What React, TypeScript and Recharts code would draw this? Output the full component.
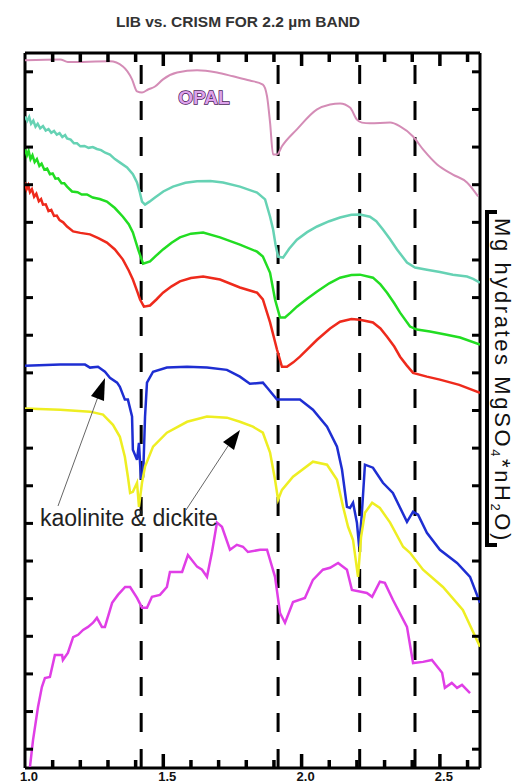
import React from 'react';
import { LineChart, Line, XAxis, YAxis, ReferenceLine, ReferenceDot } from 'recharts';

// wavelength (µm) vs. offset reflectance, curves stacked top to bottom
const OPAL: [number, number][] = [
  [1.0, 18.81], [1.127, 18.83], [1.155, 18.76], [1.307, 18.78], [1.354, 18.64], [1.387, 18.3],
  [1.405, 17.98], [1.423, 17.95], [1.445, 18.03], [1.47, 18.11], [1.499, 18.3], [1.55, 18.48],
  [1.622, 18.54], [1.694, 18.48], [1.752, 18.38], [1.813, 18.27], [1.86, 18.16], [1.875, 17.85],
  [1.886, 17.15], [1.897, 16.3], [1.911, 16.3], [1.929, 16.52], [1.983, 16.97], [2.056, 17.5],
  [2.103, 17.63], [2.139, 17.66], [2.175, 17.55], [2.2, 17.23], [2.218, 17.15], [2.247, 17.13],
  [2.32, 17.15], [2.356, 17.05], [2.403, 16.78], [2.439, 16.44], [2.49, 16.04], [2.547, 15.77],
  [2.598, 15.56], [2.638, 15.19],
];

const TEAL: [number, number][] = [
  [1.0, 17.31], [1.008, 17.2], [1.015, 17.3], [1.022, 17.12], [1.03, 17.2], [1.038, 17.04],
  [1.046, 17.12], [1.055, 17.0], [1.065, 17.06], [1.075, 16.94], [1.085, 16.98], [1.095, 16.88],
  [1.105, 16.93], [1.115, 16.83], [1.125, 16.87], [1.135, 16.77], [1.145, 16.82], [1.152, 16.73],
  [1.165, 16.7], [1.177, 16.6], [1.188, 16.6], [1.2, 16.52], [1.215, 16.53], [1.23, 16.48],
  [1.245, 16.5], [1.26, 16.45], [1.275, 16.42], [1.29, 16.35], [1.307, 16.3], [1.325, 16.18],
  [1.345, 16.08], [1.369, 15.96], [1.39, 15.78], [1.405, 15.56], [1.415, 15.3], [1.423, 15.05],
  [1.434, 14.97], [1.45, 15.05], [1.47, 15.16], [1.5, 15.32], [1.535, 15.45], [1.58, 15.55],
  [1.622, 15.59], [1.67, 15.6], [1.716, 15.56], [1.777, 15.45], [1.839, 15.29], [1.868, 15.11],
  [1.886, 14.65], [1.897, 14.31], [1.906, 13.9], [1.915, 13.59], [1.933, 13.56], [1.955, 13.8],
  [1.983, 14.04], [2.02, 14.24], [2.056, 14.39], [2.1, 14.53], [2.139, 14.63], [2.18, 14.7],
  [2.211, 14.71], [2.247, 14.65], [2.27, 14.53], [2.294, 14.31], [2.32, 14.05], [2.345, 13.78],
  [2.381, 13.43], [2.41, 13.3], [2.453, 13.24], [2.5, 13.18], [2.547, 13.11], [2.598, 13.06],
  [2.62, 13.0], [2.645, 12.9],
];

const GREEN: [number, number][] = [
  [1.0, 16.44], [1.007, 16.28], [1.013, 16.4], [1.02, 16.18], [1.027, 16.28], [1.035, 16.1],
  [1.043, 16.18], [1.052, 16.0], [1.06, 16.06], [1.07, 15.9], [1.08, 15.93], [1.09, 15.78],
  [1.1, 15.8], [1.11, 15.66], [1.12, 15.67], [1.132, 15.54], [1.142, 15.54], [1.152, 15.45],
  [1.17, 15.32], [1.19, 15.3], [1.205, 15.24], [1.224, 15.24], [1.245, 15.16], [1.27, 15.12],
  [1.296, 15.05], [1.325, 14.88], [1.354, 14.65], [1.375, 14.45], [1.39, 14.23], [1.409, 13.78],
  [1.427, 13.4], [1.452, 13.46], [1.475, 13.62], [1.499, 13.78], [1.53, 13.96], [1.56, 14.1],
  [1.6, 14.2], [1.644, 14.23], [1.705, 14.1], [1.777, 13.91], [1.839, 13.72], [1.86, 13.59],
  [1.886, 13.16], [1.904, 12.45], [1.922, 11.97], [1.94, 11.97], [1.96, 12.1], [1.983, 12.26],
  [2.02, 12.47], [2.056, 12.66], [2.1, 12.88], [2.139, 13.03], [2.18, 13.1], [2.211, 13.11],
  [2.258, 13.03], [2.285, 12.85], [2.309, 12.63], [2.335, 12.35], [2.356, 12.1], [2.392, 11.73],
  [2.417, 11.65], [2.464, 11.6], [2.52, 11.52], [2.573, 11.44], [2.645, 11.25],
];

const RED: [number, number][] = [
  [1.0, 15.56], [1.006, 15.38], [1.012, 15.48], [1.018, 15.3], [1.025, 15.38], [1.033, 15.18],
  [1.041, 15.26], [1.05, 15.06], [1.058, 15.12], [1.065, 14.97], [1.075, 14.98], [1.085, 14.8],
  [1.095, 14.83], [1.105, 14.67], [1.115, 14.68], [1.125, 14.56], [1.138, 14.5], [1.152, 14.39],
  [1.174, 14.26], [1.2, 14.22], [1.235, 14.18], [1.265, 14.08], [1.296, 13.96], [1.325, 13.78],
  [1.354, 13.51], [1.375, 13.22], [1.39, 12.98], [1.405, 12.68], [1.416, 12.45], [1.43, 12.26],
  [1.452, 12.29], [1.475, 12.45], [1.499, 12.63], [1.53, 12.8], [1.56, 12.93], [1.6, 13.02],
  [1.644, 13.06], [1.705, 12.98], [1.777, 12.77], [1.839, 12.63], [1.86, 12.45], [1.886, 11.84],
  [1.911, 11.12], [1.929, 10.66], [1.947, 10.66], [1.97, 10.78], [1.994, 10.93], [2.056, 11.38],
  [2.103, 11.68], [2.139, 11.86], [2.18, 11.93], [2.211, 11.91], [2.258, 11.84], [2.285, 11.68],
  [2.309, 11.46], [2.335, 11.2], [2.356, 10.93], [2.38, 10.7], [2.403, 10.5], [2.453, 10.4],
  [2.5, 10.32], [2.57, 10.18], [2.645, 9.97],
];

const BLUE: [number, number][] = [
  [1.0, 10.69], [1.127, 10.72], [1.217, 10.72], [1.235, 10.64], [1.264, 10.66], [1.289, 10.53],
  [1.307, 10.37], [1.333, 10.24], [1.343, 10.13], [1.361, 9.79], [1.372, 9.79], [1.387, 9.34],
  [1.39, 8.46], [1.405, 8.19], [1.412, 8.64], [1.419, 7.71], [1.427, 7.74], [1.434, 9.34],
  [1.441, 10.24], [1.463, 10.53], [1.513, 10.64], [1.586, 10.66], [1.658, 10.64], [1.73, 10.58],
  [1.777, 10.4], [1.813, 10.21], [1.86, 10.24], [1.875, 10.11], [1.911, 9.79], [1.994, 9.79],
  [2.041, 9.52], [2.092, 9.07], [2.128, 8.54], [2.146, 7.93], [2.164, 6.94], [2.175, 6.91],
  [2.186, 7.05], [2.2, 6.52], [2.208, 5.88], [2.218, 6.78], [2.229, 8.06], [2.258, 7.98],
  [2.294, 7.58], [2.33, 7.31], [2.381, 6.54], [2.403, 6.81], [2.421, 6.73], [2.453, 6.25],
  [2.5, 5.8], [2.562, 5.45], [2.609, 5.08], [2.645, 4.39],
];

const YELLOW: [number, number][] = [
  [1.0, 9.55], [1.127, 9.52], [1.235, 9.47], [1.282, 9.39], [1.318, 9.12], [1.343, 8.8],
  [1.361, 8.27], [1.372, 7.74], [1.38, 7.31], [1.39, 7.34], [1.405, 7.58], [1.412, 6.94],
  [1.423, 7.58], [1.434, 8.01], [1.463, 8.54], [1.513, 8.91], [1.586, 9.2], [1.658, 9.34],
  [1.73, 9.31], [1.777, 9.2], [1.824, 9.07], [1.86, 8.91], [1.886, 8.38], [1.904, 7.66],
  [1.915, 7.13], [1.929, 7.39], [1.969, 7.74], [2.041, 8.14], [2.092, 8.06], [2.128, 7.66],
  [2.15, 6.94], [2.168, 6.41], [2.186, 6.06], [2.204, 5.08], [2.215, 6.14], [2.229, 6.78],
  [2.255, 7.05], [2.283, 6.91], [2.32, 6.52], [2.367, 5.88], [2.392, 5.72], [2.439, 5.27],
  [2.511, 4.81], [2.583, 4.2], [2.645, 3.22],
];

const MAGENTA: [number, number][] = [
  [1.018, 0.03], [1.029, 0.74], [1.047, 1.62], [1.061, 2.15], [1.072, 2.39], [1.09, 2.42],
  [1.108, 3.0], [1.134, 3.0], [1.137, 2.87], [1.155, 3.06], [1.174, 3.48], [1.192, 3.54],
  [1.21, 3.67], [1.228, 3.75], [1.246, 3.86], [1.26, 3.99], [1.278, 3.75], [1.289, 3.75],
  [1.315, 4.39], [1.336, 4.6], [1.362, 4.81], [1.38, 4.81], [1.405, 4.52], [1.423, 4.26],
  [1.441, 4.26], [1.459, 4.55], [1.488, 4.6], [1.513, 4.81], [1.524, 5.21], [1.568, 5.21],
  [1.589, 5.66], [1.622, 5.35], [1.64, 5.27], [1.658, 5.08], [1.676, 5.74], [1.694, 6.52],
  [1.712, 6.41], [1.741, 5.8], [1.766, 5.93], [1.788, 5.88], [1.806, 5.74], [1.85, 5.8],
  [1.875, 5.8], [1.904, 5.08], [1.922, 4.12], [1.94, 3.86], [1.969, 4.41], [2.012, 4.52],
  [2.041, 5.0], [2.077, 5.27], [2.103, 5.32], [2.132, 5.45], [2.164, 5.27], [2.182, 4.73],
  [2.236, 4.65], [2.255, 4.55], [2.283, 4.95], [2.301, 4.92], [2.33, 4.47], [2.381, 3.75],
  [2.403, 2.79], [2.439, 2.82], [2.471, 2.87], [2.508, 2.53], [2.518, 2.13], [2.543, 2.26],
  [2.562, 2.13], [2.58, 2.21], [2.609, 1.99],
];

const BANDS = [1.42, 1.915, 2.21, 2.41];
const X_MIN = 1.0;
const X_MAX = 2.645;
const Y_MIN = 0;
const Y_MAX = 19;
const X_TICKS = [1.1, 1.2, 1.3, 1.4, 1.5, 1.6, 1.7, 1.8, 1.9, 2.0, 2.1, 2.2, 2.3, 2.4, 2.5, 2.6];
const X_LABELS = [1.0, 1.5, 2.0, 2.5];
const Y_TICKS = [0.5, 1.5, 2.5, 3.5, 4.5, 5.5, 6.5, 7.5, 8.5, 9.5, 10.5, 11.5, 12.5, 13.5, 14.5, 15.5, 16.5, 17.5, 18.5];

const toRows = (pts: [number, number][]) => pts.map(([w, r]) => ({ w, r }));

const SERIES = [
  { name: 'opal', pts: OPAL, color: '#d48cb6', width: 2, type: 'monotone' },
  { name: 'teal', pts: TEAL, color: '#66d2b4', width: 2.5, type: 'linear' },
  { name: 'green', pts: GREEN, color: '#22dd22', width: 2.5, type: 'linear' },
  { name: 'red', pts: RED, color: '#ee2a1c', width: 2.5, type: 'linear' },
  { name: 'blue', pts: BLUE, color: '#1e2ed2', width: 2.5, type: 'linear' },
  { name: 'yellow', pts: YELLOW, color: '#eeee22', width: 2.5, type: 'linear' },
  { name: 'magenta', pts: MAGENTA, color: '#e03ee6', width: 2.5, type: 'linear' },
];

const FONT = '"Liberation Sans", Arial, sans-serif';
const isMajor = (v: number) => X_LABELS.some((m) => Math.abs(m - v) < 1e-6);

const BottomLabel = (props: any) => {
  const { x, y, payload } = props;
  return (
    <text x={x + 4} y={y + 13} textAnchor="middle" fontSize={13} fontWeight="bold" fontFamily={FONT} fill="#111">
      {Number(payload.value).toFixed(1)}
    </text>
  );
};

// tick drawn from an anchor point on the frame, as a filled bar (dx, dy = direction)
const tickShape = (dx: number, dy: number, len: number, w = 3) => (p: any) => {
  const { cx, cy } = p;
  const x = dx === 0 ? cx - w / 2 : dx > 0 ? cx : cx - len;
  const y = dy === 0 ? cy - w / 2 : dy > 0 ? cy : cy - len;
  return <rect x={x} y={y} width={dx === 0 ? w : len} height={dy === 0 ? w : len} fill="#000" />;
};

const frame = { stroke: '#000', strokeWidth: 3, ifOverflow: 'visible' as const };

export default function App() {
  return (
    <div style={{ position: 'absolute', left: 0, top: 0, width: 515, height: 783, background: '#fff' }}>
      <LineChart width={515} height={783} margin={{ top: 53, right: 35, bottom: 14, left: 25 }}>
        <XAxis
          type="number"
          dataKey="w"
          domain={[X_MIN, X_MAX]}
          ticks={X_LABELS}
          interval={0}
          height={1}
          tickSize={0}
          tickMargin={0}
          tickLine={false}
          axisLine={false}
          tick={<BottomLabel />}
          allowDataOverflow
        />
        <YAxis type="number" domain={[Y_MIN, Y_MAX]} hide allowDataOverflow />
        {/* plot frame */}
        <ReferenceLine y={Y_MIN} {...frame} />
        <ReferenceLine y={Y_MAX} {...frame} />
        <ReferenceLine x={X_MIN} {...frame} />
        <ReferenceLine x={X_MAX} {...frame} />
        {/* inward tick marks on all four sides */}
        {X_TICKS.map((t) => (
          <ReferenceDot
            key={'b' + t}
            x={t}
            y={Y_MIN}
            ifOverflow="visible"
            shape={tickShape(0, -1, isMajor(t) ? 14 : 8, 3.5)}
          />
        ))}
        {X_TICKS.map((t) => (
          <ReferenceDot
            key={'t' + t}
            x={t}
            y={Y_MAX}
            ifOverflow="visible"
            shape={tickShape(0, 1, isMajor(t) ? 13 : 9, 3.5)}
          />
        ))}
        {Y_TICKS.map((t) => (
          <ReferenceDot key={'l' + t} x={X_MIN} y={t} ifOverflow="visible" shape={tickShape(1, 0, 8)} />
        ))}
        {Y_TICKS.map((t) => (
          <ReferenceDot key={'r' + t} x={X_MAX} y={t} ifOverflow="visible" shape={tickShape(-1, 0, 8)} />
        ))}
        {BANDS.map((b) => (
          <ReferenceLine key={b} x={b} stroke="#000" strokeWidth={3} strokeDasharray="19 17" />
        ))}
        {SERIES.map((s) => (
          <Line
            key={s.name}
            data={toRows(s.pts)}
            dataKey="r"
            type={s.type as any}
            stroke={s.color}
            strokeWidth={s.width}
            dot={false}
            isAnimationActive={false}
          />
        ))}
      </LineChart>
      <svg width={515} height={783} style={{ position: 'absolute', left: 0, top: 0, pointerEvents: 'none' }}>
        <text x={238} y={27} textAnchor="middle" fontSize={15.5} fontWeight="bold" fontFamily={FONT} fill="#333">
          LIB vs. CRISM FOR 2.2 µm BAND
        </text>
        <text
          x={204}
          y={104}
          textAnchor="middle"
          fontSize={19}
          fontWeight="bold"
          fontFamily={FONT}
          fill="#dda2ec"
          stroke="#4a1a58"
          strokeWidth={1.4}
          paintOrder="stroke"
        >
          OPAL
        </text>
        <text x={40} y={526} fontSize={23} fontFamily={FONT} fill="#222">
          kaolinite &amp; dickite
        </text>
        <line x1={58} y1={506} x2={99} y2={394} stroke="#666" strokeWidth={1} />
        <polygon points="105,378 91,396 104,401" fill="#000" />
        <line x1={186} y1={510} x2={228} y2={446} stroke="#666" strokeWidth={1} />
        <polygon points="240,430 223,442 234,450" fill="#000" />
        <polyline points="497,212 487,212 487,545 497,545" fill="none" stroke="#000" strokeWidth={4} />
        <text transform="translate(495,218) rotate(90)" fontSize={22} fontFamily={FONT} fill="#111" letterSpacing={2.6}>
          Mg hydrates MgSO<tspan fontSize={13} dy={4}>4</tspan>
          <tspan dy={-4}>*nH</tspan>
          <tspan fontSize={13} dy={4}>2</tspan>
          <tspan dy={-4}>O)</tspan>
        </text>
      </svg>
    </div>
  );
}
